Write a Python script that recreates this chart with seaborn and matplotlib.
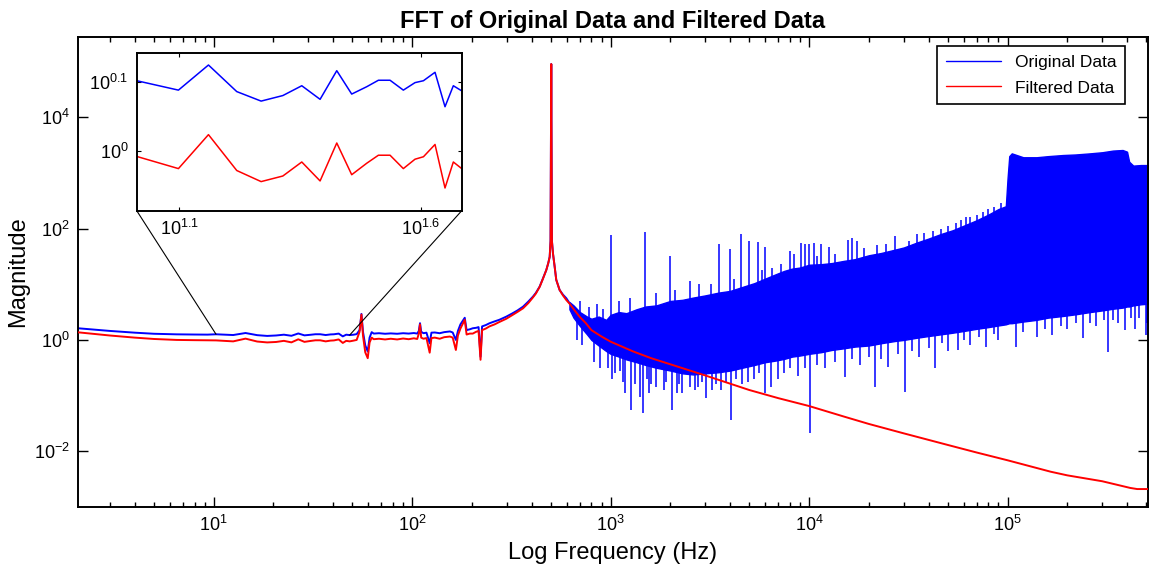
import numpy as np
import matplotlib
matplotlib.use("Agg")
import matplotlib.pyplot as plt
import seaborn as sns
from matplotlib.ticker import (LogLocator, NullLocator, NullFormatter,
                               LogFormatterSciNotation, FixedLocator, FixedFormatter)
from matplotlib.patches import ConnectionPatch

# --- low frequency part (Hz, magnitude) ---
low_f = [2.07, 3.0, 4.0, 5.0, 6.5, 8.0, 9.3,
         10.27, 12.53, 14.46, 16.55, 18.59, 20.62, 22.57, 24.63, 26.67, 28.64,
         30.77, 32.53, 34.39, 36.64, 38.74, 40.33, 42.62, 44.70, 46.51, 48.41,
         50.5, 52.5, 54.3, 55.5, 56.5, 58.0, 59.7, 61.0, 62.5, 64, 68, 73, 78, 84,
         90, 96, 102, 106, 108, 109.5, 111, 114, 118, 122.5, 125, 130, 137.6, 145,
         155, 160, 166, 170, 175, 184, 188, 195, 202, 210, 216, 221, 225, 235,
         245, 260, 275, 298, 320, 340, 362, 385, 406, 420, 439, 455, 474, 485,
         493, 498, 502, 506, 512, 522, 532, 553, 575, 598, 620]
low_blue = [1.62, 1.45, 1.35, 1.29, 1.26, 1.25, 1.245,
            1.263, 1.224, 1.331, 1.218, 1.180, 1.202, 1.242, 1.187, 1.306, 1.208,
            1.238, 1.265, 1.265, 1.224, 1.255, 1.263, 1.299, 1.158, 1.242, 1.221,
            1.24, 1.27, 1.5, 2.93, 1.4, 0.8, 0.62, 1.1, 1.38, 1.30, 1.32, 1.29, 1.31, 1.29,
            1.32, 1.30, 1.33, 1.30, 1.45, 2.0, 1.4, 1.32, 1.35, 0.87, 1.35, 1.36, 1.32, 1.38,
            1.42, 1.36, 1.0, 1.45, 1.9, 2.5, 1.5, 1.55, 1.62, 1.65, 1.7, 0.5, 1.75, 1.85,
            1.99, 2.15, 2.3, 2.62, 3.0, 3.4, 3.96, 4.9, 6.0, 7.0, 9.1, 12.5, 18, 24,
            31, 60, 9.0e4, 60, 36, 21, 12, 7.9, 6.5, 5.6, 4.6]
low_red = [1.37, 1.2, 1.1, 1.04, 1.0, 0.99, 0.985,
           0.981, 0.942, 1.055, 0.936, 0.902, 0.919, 0.963, 0.904, 1.026, 0.923,
           0.959, 0.985, 0.985, 0.942, 0.972, 0.980, 1.021, 0.883, 0.963, 0.942,
           0.97, 1.0, 1.4, 2.85, 1.2, 0.6, 0.47, 0.9, 1.1, 1.03, 1.05, 1.02, 1.05, 1.02,
           1.06, 1.03, 1.07, 1.04, 1.3, 1.9, 1.1, 1.05, 1.08, 0.59, 1.08, 1.1, 1.05, 1.12,
           1.15, 1.1, 0.66, 1.2, 1.6, 2.3, 1.25, 1.3, 1.3, 1.4, 1.45, 0.44, 1.5, 1.6,
           1.75, 1.9, 2.1, 2.4, 2.8, 3.2, 3.7, 4.6, 5.8, 6.8, 9.0, 12.3, 18, 24,
           31, 60, 9.0e4, 60, 36, 21, 12, 7.9, 6.3, 5.2, 4.5]

# filtered data above 620 Hz
high_f = [650, 698, 750, 800, 900, 1000, 1300, 1600, 2000, 3000, 5000, 7000,
          1.0e4, 1.5e4, 2.0e4, 3.0e4, 5.0e4, 7.0e4, 1.0e5, 1.65e5, 2.0e5, 3.0e5,
          4.15e5, 4.5e5, 5.1e5]
high_red = [3.6, 2.6, 2.0, 1.5, 1.15, 0.93, 0.62, 0.47, 0.365, 0.23, 0.126, 0.09,
            0.065, 0.042, 0.031, 0.021, 0.013, 0.0095, 0.0069, 0.0043, 0.0037, 0.0029,
            0.0022, 0.0021, 0.0021]

# original data above 620 Hz: dense noise band, envelope exponents (log10 magnitude)
band_f = [620, 650, 700, 760, 800, 870, 950, 1000, 1100, 1200, 1350, 1500, 1700,
          2000, 2300, 2600, 3000, 3500, 4000, 4600, 5300, 6000, 6800, 7500, 8200,
          9000, 1.0e4, 1.15e4, 1.3e4, 1.5e4, 1.7e4, 2.0e4, 2.3e4, 2.7e4, 3.0e4,
          3.5e4, 4.0e4, 4.6e4, 5.3e4, 6.0e4, 7.0e4, 8.0e4, 9.0e4, 9.8e4, 1.0e5,
          1.02e5, 1.05e5, 1.2e5, 1.4e5, 1.6e5, 1.9e5, 2.2e5, 2.6e5, 3.0e5, 3.4e5,
          3.8e5, 4.0e5, 4.1e5, 4.3e5, 4.7e5, 5.1e5]
band_hi_exp = [0.68, 0.62, 0.5, 0.42, 0.38, 0.42, 0.36, 0.45, 0.5, 0.48, 0.55, 0.6, 0.62,
               0.7, 0.72, 0.76, 0.8, 0.85, 0.88, 0.95, 1.02, 1.1, 1.18, 1.24, 1.28,
               1.3, 1.35, 1.36, 1.38, 1.42, 1.45, 1.52, 1.56, 1.62, 1.66,
               1.75, 1.82, 1.9, 1.97, 2.05, 2.15, 2.25, 2.35, 2.4, 2.9,
               3.3, 3.35, 3.28, 3.28, 3.3, 3.32, 3.33, 3.35, 3.37, 3.4,
               3.41, 3.38, 3.2, 3.13, 3.14, 3.14]
band_lo_exp = [0.55, 0.4, 0.25, 0.1, 0.0, -0.1, -0.2, -0.25, -0.3, -0.35, -0.4, -0.45, -0.5,
               -0.55, -0.6, -0.62, -0.6, -0.58, -0.55, -0.5, -0.45, -0.4, -0.37, -0.34, -0.3,
               -0.28, -0.25, -0.22, -0.18, -0.15, -0.12, -0.1, -0.06, -0.02, 0.0,
               0.04, 0.07, 0.1, 0.13, 0.16, 0.2, 0.23, 0.26, 0.28, 0.29,
               0.3, 0.3, 0.33, 0.36, 0.4, 0.43, 0.46, 0.5, 0.53, 0.56,
               0.58, 0.6, 0.6, 0.62, 0.64, 0.65]

# isolated spikes of the original data (Hz, log10 magnitude of the tip)
up_spike_f = [700, 780, 850, 920, 1000, 1100, 1250, 1490, 1700, 1990, 2100, 2500,
              2800, 3200, 3500, 3980, 4200, 4530, 5000, 5500, 5800, 6000, 6500, 7200,
              8000, 8400, 9100, 9500, 1.0e4, 1.06e4, 1.1e4, 1.15e4, 1.26e4, 1.35e4,
              1.57e4, 1.64e4, 1.75e4, 1.9e4, 2.2e4, 2.45e4, 2.7e4, 3.2e4, 3.5e4,
              3.8e4, 4.2e4, 4.6e4, 5.0e4, 5.5e4, 5.8e4, 6.2e4, 6.5e4, 7.0e4, 7.5e4,
              8.0e4, 8.5e4, 9.3e4]
up_spike_exp = [0.7, 0.6, 0.65, 0.55, 1.88, 0.7, 0.75, 1.93, 0.85, 1.50, 0.9, 1.05,
                1.0, 1.0, 1.72, 1.63, 1.1, 1.90, 1.78, 1.75, 1.25, 1.66, 1.3, 1.36,
                1.59, 1.54, 1.74, 1.73, 1.73, 1.74, 1.5, 1.72, 1.66, 1.55,
                1.80, 1.83, 1.77, 1.65, 1.7, 1.72, 1.87, 1.78, 1.9,
                1.92, 1.95, 2.0, 2.05, 2.1, 2.15, 2.2, 2.2, 2.25, 2.3,
                2.35, 2.38, 2.45]
down_spike_f = [680, 720, 820, 880, 970, 1020, 1050, 1120, 1150, 1180, 1270, 1330,
                1400, 1460, 1520, 1560, 1600, 1700, 1850, 1900, 2040, 2150, 2200, 2300,
                2500, 2650, 2750, 2900, 3040, 3240, 3400, 3600, 3800, 4050, 4300, 4600,
                4900, 5300, 5600, 6000, 6450, 7000, 7500, 8000, 8800, 9500, 1.01e4,
                1.1e4, 1.2e4, 1.35e4, 1.52e4, 1.65e4, 1.8e4, 2.0e4, 2.16e4, 2.3e4,
                2.5e4, 2.8e4, 3.03e4, 3.3e4, 3.6e4, 4.0e4, 4.3e4, 4.7e4, 5.0e4, 5.6e4,
                6.0e4, 6.5e4, 7.2e4, 7.8e4, 8.5e4, 9.0e4, 1.1e5, 1.2e5, 1.4e5, 1.55e5,
                1.67e5, 1.85e5, 2.0e5, 2.2e5, 2.4e5, 2.6e5, 2.8e5, 3.05e5, 3.2e5,
                3.4e5, 3.6e5, 3.9e5, 4.2e5, 4.4e5, 4.6e5, 4.97e5, 5.05e5]
down_spike_exp = [0.0, -0.1, -0.4, -0.5, -0.51, -0.7, -0.6, -0.55, -0.75, -0.95, -1.26, -0.8,
                  -1.02, -1.32, -0.7, -0.96, -0.8, -0.84, -0.9, -0.75, -1.26, -0.96, -0.8, -0.95,
                  -0.84, -0.9, -0.85, -0.75, -1.05, -0.9, -0.8, -0.9, -0.75, -1.44, -0.7, -0.8,
                  -0.75, -0.7, -0.6, -0.96, -0.84, -0.7, -0.6, -0.5, -0.65, -0.5, -1.68,
                  -0.45, -0.5, -0.4, -0.66, -0.35, -0.45, -0.3, -0.84, -0.35,
                  -0.48, -0.25, -0.93, -0.2, -0.3, -0.15, -0.51, -0.05, -0.2, -0.18,
                  0.0, -0.1, 0.05, -0.12, 0.1, 0.0, -0.12, 0.15, 0.05, 0.2,
                  0.09, 0.25, 0.2, 0.3, 0.03, 0.3, 0.25, 0.35, -0.21,
                  0.35, 0.3, 0.18, 0.4, 0.2, 0.4, 0.09, 0.3]

# inset: zoom on 10..48 Hz
inset_f = low_f[7:27]
inset_blue = low_blue[7:27]
inset_red = low_red[7:27]
inset_xticks = [10 ** 1.1, 10 ** 1.6]
inset_xlabels = ["$10^{1.1}$", "$10^{1.6}$"]
inset_yticks = [1.0, 10 ** 0.1]
inset_ylabels = ["$10^{0}$", "$10^{0.1}$"]

main_xticks = [1e1, 1e2, 1e3, 1e4, 1e5]
main_yticks = [1e-2, 1e0, 1e2, 1e4]

BLUE = "#0000ff"
RED = "#ff0000"

sns.set_style("ticks")
plt.rcParams["font.family"] = ["Liberation Sans", "DejaVu Sans"]
plt.rcParams["mathtext.fontset"] = "custom"
plt.rcParams["mathtext.rm"] = "Liberation Sans"
plt.rcParams["mathtext.it"] = "Liberation Sans:italic"
plt.rcParams["mathtext.bf"] = "Liberation Sans:bold"
for key in ["text.color", "axes.labelcolor", "xtick.color", "ytick.color"]:
    plt.rcParams[key] = "black"

fig = plt.figure(figsize=(11.52, 5.68), dpi=100)
ax = fig.add_axes([0.0677, 0.1074, 0.9288, 0.828])
ax.set_xscale("log")
ax.set_yscale("log")

# original data: band + spikes + low-frequency line
band_mid = (np.array(band_lo_exp) + np.array(band_hi_exp)) / 2


def band_mid_at(f):
    return 10 ** np.interp(np.log10(f), np.log10(band_f), band_mid)


ax.fill_between(band_f, np.power(10.0, band_lo_exp), np.power(10.0, band_hi_exp),
                color=BLUE, linewidth=1.0, zorder=2)
ax.vlines(up_spike_f, band_mid_at(up_spike_f), np.power(10.0, up_spike_exp),
          color=BLUE, linewidth=1.1, zorder=2)
ax.vlines(down_spike_f, np.power(10.0, down_spike_exp), band_mid_at(down_spike_f),
          color=BLUE, linewidth=1.1, zorder=2)
sns.lineplot(x=low_f, y=low_blue, ax=ax, color=BLUE, linewidth=1.4,
             estimator=None, sort=False, label="Original Data", zorder=2)

# filtered data
sns.lineplot(x=low_f + high_f, y=low_red + high_red, ax=ax, color=RED, linewidth=1.4,
             estimator=None, sort=False, label="Filtered Data", zorder=3)

ax.set_xlim(2.07, 5.1e5)
ax.set_ylim(1e-3, 10 ** 5.445)
ax.xaxis.set_major_locator(FixedLocator(main_xticks))
ax.xaxis.set_major_formatter(LogFormatterSciNotation(base=10))
ax.xaxis.set_minor_locator(LogLocator(base=10, subs=np.arange(2, 10), numticks=20))
ax.xaxis.set_minor_formatter(NullFormatter())
ax.yaxis.set_major_locator(FixedLocator(main_yticks))
ax.yaxis.set_major_formatter(LogFormatterSciNotation(base=10))
ax.yaxis.set_minor_locator(NullLocator())
ax.tick_params(which="both", direction="in", top=True, right=True, width=1.0,
               labelsize=13, colors="black")
ax.tick_params(which="major", length=7)
ax.tick_params(which="minor", length=3.8)
ax.tick_params(axis="x", pad=6)
ax.tick_params(axis="y", pad=6)
for s in ax.spines.values():
    s.set_linewidth(1.4)
    s.set_color("black")

ax.set_title("FFT of Original Data and Filtered Data", fontsize=17, fontweight="bold", pad=6)
ax.set_xlabel("Log Frequency (Hz)", fontsize=17, labelpad=5)
ax.set_ylabel("Magnitude", fontsize=17, labelpad=3)

leg = ax.legend(loc="upper right", bbox_to_anchor=(0.979, 0.98), borderaxespad=0,
                fontsize=12.5, handlelength=3.2, fancybox=False, framealpha=1,
                edgecolor="black", labelspacing=0.6, borderpad=0.5)
leg.get_frame().set_linewidth(1.2)
for h in leg.get_lines():
    h.set_linewidth(1.0)

# inset
axins = fig.add_axes([0.1187, 0.629, 0.2821, 0.2782])
axins.set_xscale("log")
axins.set_yscale("log")
sns.lineplot(x=inset_f, y=inset_blue, ax=axins, color=BLUE, linewidth=1.1,
             estimator=None, sort=False, legend=False)
sns.lineplot(x=inset_f, y=inset_red, ax=axins, color=RED, linewidth=1.1,
             estimator=None, sort=False, legend=False)
axins.set_xlim(inset_f[0], inset_f[-1])
axins.set_ylim(10 ** -0.087, 10 ** 0.142)
axins.xaxis.set_major_locator(FixedLocator(inset_xticks))
axins.xaxis.set_major_formatter(FixedFormatter(inset_xlabels))
axins.yaxis.set_major_locator(FixedLocator(inset_yticks))
axins.yaxis.set_major_formatter(FixedFormatter(inset_ylabels))
axins.xaxis.set_minor_locator(NullLocator())
axins.yaxis.set_minor_locator(NullLocator())
axins.tick_params(which="both", direction="in", top=True, right=True, length=3,
                  labelsize=13, pad=6)
axins.set_xlabel("")
axins.set_ylabel("")
for s in axins.spines.values():
    s.set_linewidth(1.4)
    s.set_color("black")

for corner, i in [((0, 0), 0), ((1, 0), -1)]:
    con = ConnectionPatch(xyA=corner, coordsA=axins.transAxes,
                          xyB=(inset_f[i], inset_blue[i]), coordsB=ax.transData,
                          color="black", linewidth=0.8, zorder=5)
    fig.add_artist(con)

fig.savefig("out.png", dpi=100)
